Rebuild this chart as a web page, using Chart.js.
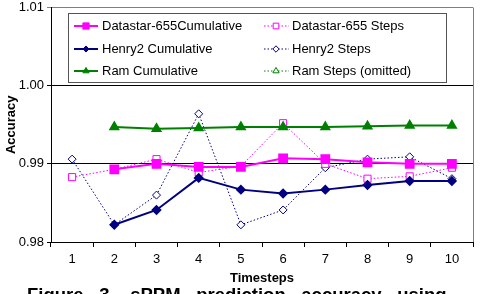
<!DOCTYPE html>
<html>
<head>
<meta charset="utf-8">
<script src="https://cdn.jsdelivr.net/npm/chart.js@4/dist/chart.umd.min.js"></script>
<style>
  html, body { margin: 0; padding: 0; background: #fff; }
  body { width: 482px; height: 294px; overflow: hidden; position: relative; }
  #wrap { position: absolute; left: 0; top: 0; width: 482px; height: 294px; }
  #caption {
    position: absolute; left: 27px; top: 286px; white-space: nowrap;
    font: bold 18.5px "Liberation Sans", Arial, sans-serif; line-height: 18px;
    word-spacing: 10.5px; color: #000;
  }
</style>
</head>
<body>
<div id="wrap"><canvas id="chart"></canvas></div>
<div id="caption">Figure 3. sPPM prediction accuracy using</div>
<script>
var timesteps = ['1', '2', '3', '4', '5', '6', '7', '8', '9', '10'];
var yTicks = [0.98, 0.99, 1.00, 1.01];

var datastarCum   = [null, 0.9893, 0.9900, 0.9896, 0.9896, 0.9907, 0.9906, 0.9902, 0.9900, 0.9900];
var datastarSteps = [0.9883, 0.9893, 0.9906, 0.9889, 0.9897, 0.9952, 0.9900, 0.9881, 0.9884, 0.9895];
var henryCum      = [null, 0.9822, 0.9841, 0.9882, 0.9867, 0.9862, 0.9867, 0.9873, 0.9878, 0.9878];
var henrySteps    = [0.9906, 0.9822, 0.9860, 0.9964, 0.9822, 0.9841, 0.9895, 0.9906, 0.9909, 0.9881];
var ramCum        = [null, 0.9947, 0.9945, 0.9946, 0.9947, 0.9947, 0.9947, 0.9948, 0.9949, 0.9949];
var ramSteps      = [];

var FONT = '"Liberation Sans", Arial, sans-serif';
var MAGENTA = '#ff00ff', NAVY = '#000080', GREEN = '#008000';

// legend drawn inside the plot, two columns like the original
var boxLegend = {
    id: 'boxLegend',
    afterDatasetsDraw: function(chart) {
        var ctx = chart.ctx;
        var x0 = 68, y0 = 13, x1 = 446, y1 = 82;
        ctx.save();
        ctx.fillStyle = '#fff';
        ctx.fillRect(x0, y0, x1 - x0, y1 - y0);
        ctx.strokeStyle = '#555';
        ctx.lineWidth = 1;
        ctx.strokeRect(x0 + 0.5, y0 + 0.5, x1 - x0, y1 - y0);

        var rows = [26, 49, 71];
        var cols = [{ a: 74, b: 98, m: 86, t: 102 }, { a: 264, b: 289, m: 276, t: 292 }];
        ctx.font = '13px ' + FONT;
        ctx.textBaseline = 'middle';
        chart.data.datasets.forEach(function(ds, i) {
            var c = cols[i % 2], y = rows[Math.floor(i / 2)];
            ctx.save();
            ctx.strokeStyle = ds.borderColor;
            ctx.lineWidth = ds.borderWidth;
            ctx.setLineDash(ds.borderDash || []);
            ctx.beginPath();
            ctx.moveTo(c.a, y);
            ctx.lineTo(c.b, y);
            ctx.stroke();
            ctx.restore();
            ctx.save();
            ctx.fillStyle = ds.pointBackgroundColor;
            ctx.strokeStyle = ds.pointBorderColor;
            ctx.lineWidth = 1;
            Chart.helpers.drawPoint(ctx, {
                pointStyle: ds.pointStyle, radius: ds.pointRadius * 0.8, rotation: 0, borderWidth: 1
            }, c.m, y);
            ctx.restore();
            ctx.fillStyle = '#000';
            ctx.fillText(ds.label, c.t, y + 0.5);
        });
        ctx.restore();
    }
};

// grey frame on top and right of plot area
var frame = {
    id: 'frame',
    beforeDatasetsDraw: function(chart) {
        var a = chart.chartArea, ctx = chart.ctx;
        ctx.save();
        ctx.strokeStyle = '#808080';
        ctx.lineWidth = 1;
        ctx.beginPath();
        ctx.moveTo(Math.round(a.right) + 0.5, a.top);
        ctx.lineTo(Math.round(a.right) + 0.5, a.bottom);
        ctx.stroke();
        ctx.restore();
    }
};

var ctx = document.getElementById('chart');
var chart = new Chart(ctx, {
    type: 'line',
    data: {
        labels: timesteps,
        datasets: [
            { label: 'Datastar-655Cumulative', data: datastarCum, borderColor: MAGENTA, borderWidth: 2,
              pointStyle: 'rect', pointRadius: 5.5, pointBackgroundColor: MAGENTA, pointBorderColor: MAGENTA, order: 1 },
            { label: 'Datastar-655 Steps', data: datastarSteps, borderColor: MAGENTA, borderWidth: 1, borderDash: [1.5, 2],
              pointStyle: 'rect', pointRadius: 5, pointBackgroundColor: '#fff', pointBorderColor: MAGENTA, order: 4 },
            { label: 'Henry2 Cumulative', data: henryCum, borderColor: NAVY, borderWidth: 2,
              pointStyle: 'rectRot', pointRadius: 3.8, pointBackgroundColor: NAVY, pointBorderColor: NAVY, order: 2 },
            { label: 'Henry2 Steps', data: henrySteps, borderColor: NAVY, borderWidth: 1, borderDash: [1.5, 2],
              pointStyle: 'rectRot', pointRadius: 4, pointBackgroundColor: '#fff', pointBorderColor: NAVY, order: 5 },
            { label: 'Ram Cumulative', data: ramCum, borderColor: GREEN, borderWidth: 2,
              pointStyle: 'triangle', pointRadius: 4.5, pointBackgroundColor: GREEN, pointBorderColor: GREEN, order: 3 },
            { label: 'Ram Steps (omitted)', data: ramSteps, borderColor: GREEN, borderWidth: 1, borderDash: [1.5, 2],
              pointStyle: 'triangle', pointRadius: 4.5, pointBackgroundColor: '#fff', pointBorderColor: GREEN, order: 6 }
        ]
    },
    options: {
        responsive: true,
        maintainAspectRatio: false,
        animation: false,
        spanGaps: false,
        layout: { padding: { left: 0, right: 9, top: 5, bottom: 6 } },
        elements: { line: { tension: 0, fill: false }, point: { borderWidth: 1, hoverRadius: 4 } },
        plugins: { legend: { display: false }, tooltip: { enabled: false } },
        scales: {
            x: {
                offset: true,
                grid: { display: true, drawOnChartArea: false, drawTicks: true, tickLength: 5, color: '#000', offset: true },
                border: { color: '#000', width: 1 },
                ticks: { color: '#000', font: { family: FONT, size: 13 }, padding: 5, maxRotation: 0 },
                title: { display: true, text: 'Timesteps', color: '#000', font: { family: FONT, size: 13, weight: 'bold' }, padding: { top: 2, bottom: 2 } },
                afterFit: function(s) { s.height = 46; s.paddingLeft = 0; s.paddingRight = 0; }
            },
            y: {
                min: 0.98, max: 1.01,
                afterBuildTicks: function(s) { s.ticks = yTicks.map(function(v) { return { value: v }; }); },
                grid: {
                    drawTicks: true, tickLength: 4,
                    color: function(c) { return c.tick && c.tick.value > 1.005 ? '#808080' : '#000'; }
                },
                border: { color: '#000', width: 1 },
                ticks: {
                    color: '#000', padding: 3, font: { family: FONT, size: 13 },
                    callback: function(v) { return Number(v).toFixed(2); }
                },
                title: { display: true, text: 'Accuracy', color: '#000', font: { family: FONT, size: 13, weight: 'bold' }, padding: { top: 4, bottom: 0 } },
                afterFit: function(s) { s.width = 51; s.paddingTop = 0; s.paddingBottom = 0; }
            }
        }
    },
    plugins: [frame, boxLegend]
});
</script>
</body>
</html>
